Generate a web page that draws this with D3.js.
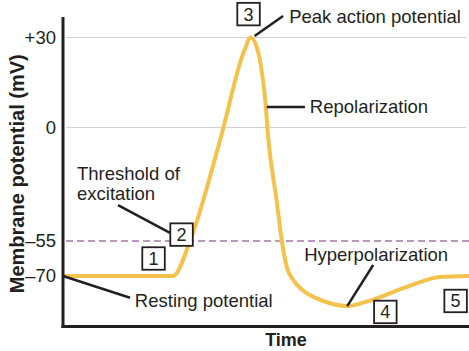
<!DOCTYPE html>
<html>
<head>
<meta charset="utf-8">
<script src="https://cdn.jsdelivr.net/npm/d3@7"></script>
<style>
  body { margin: 0; background: #fff; }
  svg { display: block; font-family: "Liberation Sans", Arial, sans-serif; }
</style>
</head>
<body>
<svg id="chart" width="469" height="351"></svg>
<script>
// Membrane potential trace (time in arbitrary ms, potential in mV)
const timeMs = [0, 2.71, 3.13, 3.87, 4.47, 4.62, 4.77, 4.85, 4.98, 5.06, 5.26, 5.39, 5.51, 5.67, 5.92, 6.25, 6.58, 6.99, 7.48, 8.47, 9.29, 10];
const potentialMv = [-70, -70, -55, -6.1, 25.8, 30, 26.9, 22.5, 9.2, -6.1, -35.1, -55, -66, -71.7, -76.3, -79.6, -81.7, -82.9, -81, -74.7, -70.4, -70];

// Y axis ticks (schematic, not evenly spaced)
const tickValues = [30, 0, -55, -70];
const tickLabels = ["+30", "0", "\u201355", "\u201370"];
const gridValues = [30, 0];
const thresholdMv = -55;

const plotLeft = 63, plotRight = 469, plotTop = 17, plotBottom = 326.5;

const svg = d3.select("#chart");

// Scales: the y scale is piecewise because the drawing is schematic
const x = d3.scaleLinear().domain([0, 10]).range([plotLeft, plotRight]);
const y = d3.scaleLinear()
    .domain([-70, -55, 0, 30])
    .range([276, 241, 127.5, 37.5]);

const ink = "#231f20";

// Grid lines
svg.append("g")
    .selectAll("line")
    .data(gridValues)
    .join("line")
    .attr("x1", plotLeft + 3).attr("x2", plotRight - 3)
    .attr("y1", d => y(d)).attr("y2", d => y(d))
    .attr("stroke", "#cfcfcf")
    .attr("stroke-width", 1.2);

// Threshold dashed line
svg.append("line")
    .attr("x1", plotLeft + 3).attr("x2", plotRight)
    .attr("y1", y(thresholdMv)).attr("y2", y(thresholdMv))
    .attr("stroke", "#a775a8")
    .attr("stroke-width", 1.6)
    .attr("stroke-dasharray", "7,4");

// Trace
const points = timeMs.map((t, i) => [t, potentialMv[i]]);
const line = d3.line()
    .x(d => x(d[0]))
    .y(d => y(d[1]))
    .curve(d3.curveMonotoneX);

svg.append("path")
    .datum(points)
    .attr("d", line)
    .attr("fill", "none")
    .attr("stroke", "#f4c24a")
    .attr("stroke-width", 4)
    .attr("stroke-linejoin", "round");

// Axes (frame lines)
svg.append("line")
    .attr("x1", plotLeft).attr("x2", plotLeft)
    .attr("y1", plotTop).attr("y2", plotBottom + 1.5)
    .attr("stroke", ink).attr("stroke-width", 3);
svg.append("line")
    .attr("x1", plotLeft - 1.5).attr("x2", plotRight)
    .attr("y1", plotBottom).attr("y2", plotBottom)
    .attr("stroke", ink).attr("stroke-width", 3);

const yAxis = svg.append("g")
    .attr("transform", `translate(${plotLeft},0)`)
    .call(d3.axisLeft(y)
        .tickValues(tickValues)
        .tickFormat((d, i) => tickLabels[i])
        .tickSize(0)
        .tickPadding(7));
yAxis.select(".domain").remove();
yAxis.selectAll("text")
    .attr("font-size", 18.5)
    .attr("font-family", "Liberation Sans, Arial, sans-serif")
    .attr("fill", ink);

// Axis titles
svg.append("text")
    .attr("transform", `translate(24,${(plotTop + plotBottom) / 2 + 2}) rotate(-90)`)
    .attr("text-anchor", "middle")
    .attr("font-size", 20)
    .attr("font-weight", "bold")
    .attr("fill", ink)
    .text("Membrane potential (mV)");

svg.append("text")
    .attr("x", 286)
    .attr("y", 346)
    .attr("text-anchor", "middle")
    .attr("font-size", 18)
    .attr("font-weight", "bold")
    .attr("fill", ink)
    .text("Time");

// Annotations, placed in data units
const leaders = [
    [[4.72, 30.5], [5.42, 37.2]],
    [[5.02, 6.8], [5.96, 6.8]],
    [[1.355, -37.6], [2.635, -51.1]],
    [[0, -70], [1.65, -79.3]],
    [[7.64, -65.3], [7.0, -82.9]]
];
svg.append("g")
    .selectAll("line")
    .data(leaders)
    .join("line")
    .attr("x1", d => x(d[0][0])).attr("y1", d => y(d[0][1]))
    .attr("x2", d => x(d[1][0])).attr("y2", d => y(d[1][1]))
    .attr("stroke", ink)
    .attr("stroke-width", 2.5);

const labels = [
    { t: 5.57, v: 34.7, text: "Peak action potential" },
    { t: 6.08, v: 4.7, text: "Repolarization" },
    { t: 0.345, v: -25.2, text: "Threshold of" },
    { t: 0.345, v: -34.9, text: "excitation" },
    { t: 1.77, v: -83.1, text: "Resting potential" },
    { t: 5.94, v: -63.4, text: "Hyperpolarization" }
];
svg.append("g")
    .selectAll("text")
    .data(labels)
    .join("text")
    .attr("x", d => x(d.t))
    .attr("y", d => y(d.v))
    .attr("font-size", 18.5)
    .attr("fill", ink)
    .text(d => d.text);

const boxes = [
    { t: 2.23, v: -62.5, n: "1" },
    { t: 2.92, v: -51.9, n: "2" },
    { t: 4.57, v: 37.8, n: "3" },
    { t: 7.94, v: -85.4, n: "4" },
    { t: 9.67, v: -80.7, n: "5" }
];
const boxSize = 22.5;
const box = svg.append("g")
    .selectAll("g")
    .data(boxes)
    .join("g")
    .attr("transform", d => `translate(${x(d.t)},${y(d.v)})`);
box.append("rect")
    .attr("x", -boxSize / 2).attr("y", -boxSize / 2)
    .attr("width", boxSize).attr("height", boxSize)
    .attr("fill", "#fff")
    .attr("stroke", ink)
    .attr("stroke-width", 1.8);
box.append("text")
    .attr("text-anchor", "middle")
    .attr("dy", "0.36em")
    .attr("font-size", 18)
    .attr("fill", ink)
    .text(d => d.n);
</script>
</body>
</html>
